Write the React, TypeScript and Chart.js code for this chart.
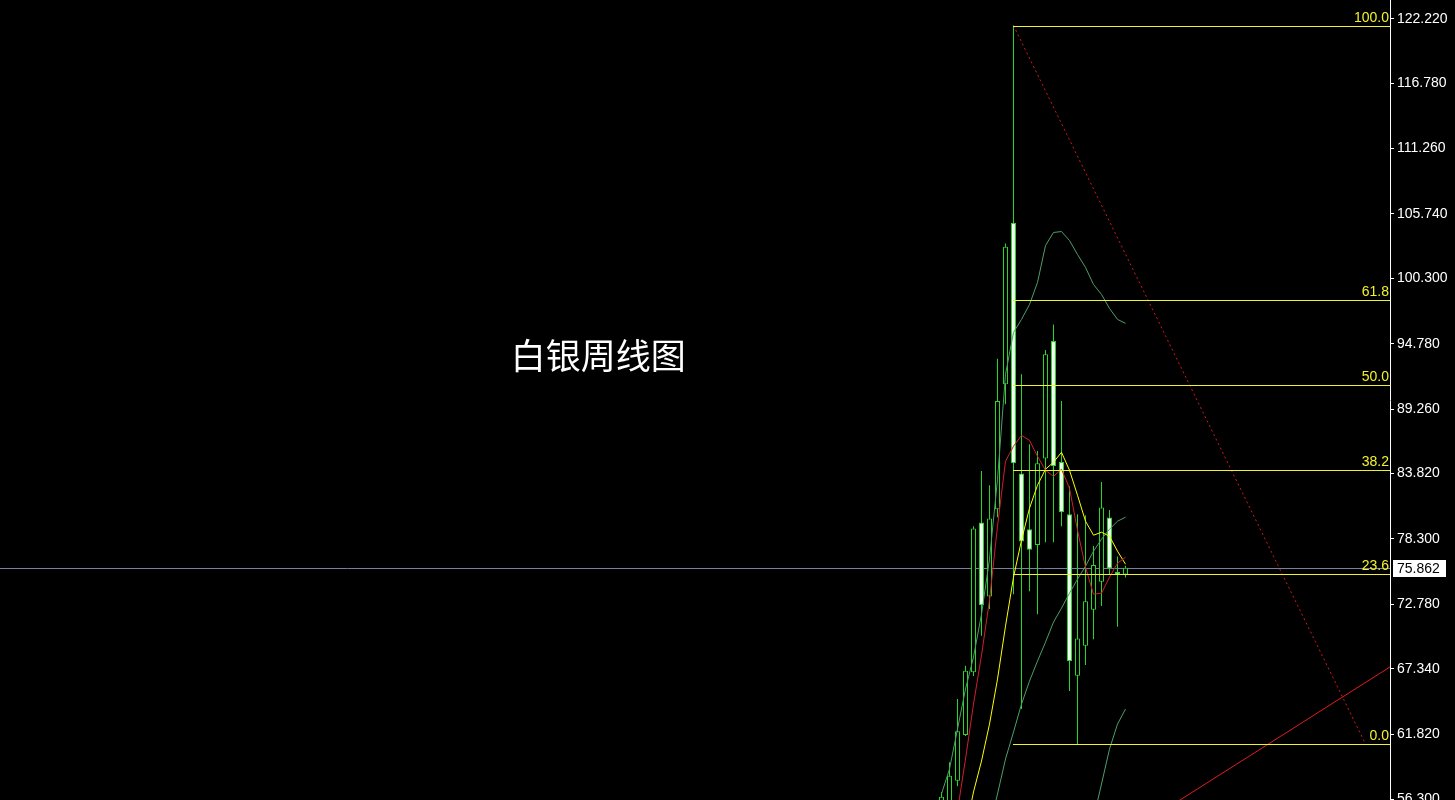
import React, { useEffect, useRef } from "react";
import { Chart, registerables } from "chart.js";

Chart.register(...registerables);

// ---- data (weekly candles, silver) ----
const weeks = [
  "2025-11-24", "2025-12-01", "2025-12-08", "2025-12-15", "2025-12-22", "2025-12-29",
  "2026-01-05", "2026-01-12", "2026-01-19", "2026-01-26", "2026-02-02", "2026-02-09",
  "2026-02-16", "2026-02-23", "2026-03-02", "2026-03-09", "2026-03-16", "2026-03-23",
  "2026-03-30", "2026-04-06", "2026-04-13", "2026-04-20", "2026-04-27", "2026-05-04",
];
const opens = [51.0, 56.0, 57.88, 61.74, 67.03, 79.68, 73.44, 80.8, 91.35, 104.99, 83.81, 79.11, 77.79, 85.08, 95.0, 84.79, 80.38, 66.74, 69.27, 72.31, 74.67, 80.1, 75.51, 75.3];
const highs = [56.93, 59.43, 64.77, 67.58, 79.37, 84.03, 82.83, 93.51, 103.24, 121.64, 92.19, 86.28, 85.72, 94.24, 96.41, 89.94, 82.74, 80.38, 80.29, 77.7, 83.1, 80.74, 76.81, 76.02];
const lows = [50.2, 55.6, 57.41, 61.65, 66.71, 70.11, 72.37, 80.13, 89.66, 73.63, 63.93, 73.88, 71.94, 78.02, 78.02, 79.37, 65.45, 60.98, 67.64, 69.83, 72.64, 75.32, 70.87, 75.04];
const closes = [56.53, 58.3, 62.05, 67.16, 79.17, 72.7, 80.02, 89.94, 102.96, 84.68, 78.08, 77.37, 84.68, 93.88, 84.45, 80.55, 67.98, 69.89, 73.04, 76.1, 80.94, 75.8, 75.29, 75.862];

const ma5 = [49.59, 52.12, 55.32, 59.71, 64.35, 68.48, 73.12, 79.37, 84.85, 86.12, 87.04, 86.62, 85.27, 84.09, 83.58, 84.18, 82.57, 79.03, 75.91, 73.63, 73.71, 75.06, 76.25, 76.75];
const ma10 = [49.0, 50.26, 51.61, 53.64, 56.93, 59.54, 62.66, 66.46, 70.93, 75.06, 78.19, 80.89, 82.83, 84.18, 84.77, 85.61, 84.09, 81.98, 79.79, 78.61, 78.86, 78.52, 77.26, 76.16];
const bbMid = [47.48, 48.24, 49.0, 49.92, 51.27, 52.54, 53.89, 56.76, 59.71, 61.99, 64.35, 66.29, 67.98, 69.58, 71.27, 72.45, 73.71, 74.9, 75.99, 77.26, 78.27, 79.12, 79.79, 80.13];
const bbUpper = [56.76, 58.87, 62.24, 65.62, 68.32, 71.94, 76.58, 83.33, 92.19, 95.73, 96.83, 98.09, 99.95, 103.07, 104.17, 104.25, 103.49, 102.31, 101.22, 99.78, 98.94, 97.76, 96.83, 96.5];
const bbLower = [38.2, 37.6, 35.8, 34.2, 34.2, 33.1, 31.2, 30.2, 27.2, 28.3, 31.9, 34.5, 36.0, 36.1, 38.4, 40.7, 43.9, 47.5, 50.8, 54.7, 57.6, 60.55, 62.66, 63.93];

const fibLevels = [0, 23.6, 38.2, 50, 61.8, 100];
const fibHigh = 121.64;
const fibLow = 60.98;
const fibStartIndex = 9;

const downTrend = [
  { x: 9, y: 121.64 },
  { x: 53, y: 60.98 },
];
const upTrend = [
  { x: 20, y: 52.05 },
  { x: 60, y: 69.17 },
];

const lastPrice = 75.862;
const yTicks = [122.22, 116.78, 111.26, 105.74, 100.3, 94.78, 89.26, 83.82, 78.3, 72.78, 67.34, 61.82, 56.3];
const titleText = "白银周线图";

// ---- view settings ----
const X_MIN = -117.6875;
const X_MAX = 56.0625;
const Y_MIN = 56.25;
const Y_MAX = 123.8;

const GREEN = "rgb(40,215,40)";
const BB_COLOR = "rgb(78,158,104)";
const FIB_COLOR = "#f2f22a";
const LABEL_FONT = '14px "Liberation Sans"';

function App() {
  const ref = useRef<HTMLCanvasElement | null>(null);

  useEffect(() => {
    const canvas = ref.current;
    if (!canvas) return;

    const idx = weeks.map((_, i) => i);
    const wickData = idx.map((i) => ({ x: i, y: [lows[i], highs[i]] }));
    const bodyData = idx.map((i) => ({ x: i, y: [opens[i], closes[i]] }));
    const bodyFill = idx.map((i) => (closes[i] >= opens[i] ? "#000000" : "#f0fff0"));
    const line = (arr: number[]) => arr.map((v, i) => ({ x: i, y: v }));
    const fibValue = (lvl: number) => fibLow + ((fibHigh - fibLow) * lvl) / 100;

    const overlay = {
      id: "overlay",
      beforeDatasetsDraw(chart: any) {
        const { ctx, chartArea, scales } = chart;
        const y = scales.y;
        const py = Math.round(y.getPixelForValue(lastPrice)) + 0.5;
        ctx.save();
        ctx.strokeStyle = "rgb(125,125,160)";
        ctx.lineWidth = 1;
        ctx.beginPath();
        ctx.moveTo(chartArea.left, py);
        ctx.lineTo(chartArea.right, py);
        ctx.stroke();
        ctx.restore();
      },
      afterDatasetsDraw(chart: any) {
        const { ctx, chartArea, scales } = chart;
        const y = scales.y;
        const x = scales.x;
        ctx.save();
        ctx.beginPath();
        ctx.rect(chartArea.left, chartArea.top, chartArea.right - chartArea.left, chartArea.bottom - chartArea.top);
        ctx.clip();
        ctx.strokeStyle = FIB_COLOR;
        ctx.lineWidth = 1;
        const x0 = Math.round(x.getPixelForValue(fibStartIndex)) - 1;
        fibLevels.forEach((lvl) => {
          const py = Math.round(y.getPixelForValue(fibValue(lvl))) + 0.5;
          ctx.beginPath();
          ctx.moveTo(x0, py);
          ctx.lineTo(chartArea.right, py);
          ctx.stroke();
        });
        ctx.restore();
      },
      afterDraw(chart: any) {
        const { ctx, chartArea, scales } = chart;
        const y = scales.y;
        const x = scales.x;
        ctx.save();
        // fib labels
        ctx.font = LABEL_FONT;
        ctx.fillStyle = FIB_COLOR;
        ctx.textAlign = "right";
        ctx.textBaseline = "bottom";
        fibLevels.forEach((lvl) => {
          const py = Math.round(y.getPixelForValue(fibValue(lvl)));
          ctx.fillText(lvl.toFixed(1), chartArea.right - 1, py - 1);
        });
        // price box
        const pp = Math.round(y.getPixelForValue(lastPrice));
        ctx.fillStyle = "#ffffff";
        ctx.fillRect(chartArea.right + 3, pp - 8, 53, 17);
        ctx.fillStyle = "#000000";
        ctx.textAlign = "left";
        ctx.textBaseline = "middle";
        ctx.fillText(lastPrice.toFixed(3), chartArea.right + 7, pp + 1);
        // title
        ctx.fillStyle = "#ffffff";
        ctx.font = '35px "Noto Sans CJK SC"';
        ctx.textAlign = "center";
        ctx.textBaseline = "middle";
        ctx.fillText(titleText, x.getPixelForValue(-42.9), y.getPixelForValue(93.74));
        ctx.restore();
      },
    };

    const chart = new Chart(canvas, {
      type: "bar",
      data: {
        datasets: [
          {
            type: "bar",
            data: wickData as any,
            backgroundColor: GREEN,
            borderColor: GREEN,
            borderWidth: 0,
            barThickness: 1,
            grouped: false,
            inflateAmount: 0,
            order: 6,
          } as any,
          {
            type: "bar",
            data: bodyData as any,
            backgroundColor: bodyFill,
            borderColor: GREEN,
            borderWidth: 1,
            borderSkipped: false,
            barThickness: 5,
            grouped: false,
            inflateAmount: 0,
            order: 5,
          } as any,
          { type: "line", data: line(bbUpper), borderColor: BB_COLOR, borderWidth: 1, pointRadius: 0, order: 4 },
          { type: "line", data: line(bbMid), borderColor: BB_COLOR, borderWidth: 1, pointRadius: 0, order: 4 },
          { type: "line", data: line(bbLower), borderColor: BB_COLOR, borderWidth: 1, pointRadius: 0, order: 4 },
          { type: "line", data: line(ma10), borderColor: "#ffff00", borderWidth: 1, pointRadius: 0, order: 3 },
          { type: "line", data: line(ma5), borderColor: "rgb(210,30,45)", borderWidth: 1, pointRadius: 0, order: 2 },
          {
            type: "line",
            data: downTrend,
            borderColor: "rgb(215,25,25)",
            borderWidth: 1,
            borderDash: [2, 3],
            pointRadius: 0,
            order: 1,
          },
          {
            type: "line",
            data: upTrend,
            borderColor: "rgb(225,30,30)",
            borderWidth: 1,
            pointRadius: 0,
            order: 1,
          },
        ] as any,
      },
      options: {
        responsive: false,
        animation: false,
        devicePixelRatio: 1,
        layout: { padding: 0 },
        plugins: {
          legend: { display: false },
          tooltip: { enabled: false },
          title: { display: false },
        },
        scales: {
          x: {
            type: "linear",
            min: X_MIN,
            max: X_MAX,
            display: false,
            offset: false,
            grid: { offset: false },
          },
          y: {
            type: "linear",
            position: "right",
            min: Y_MIN,
            max: Y_MAX,
            afterBuildTicks: (scale: any) => {
              scale.ticks = yTicks.map((v) => ({ value: v }));
            },
            afterFit: (scale: any) => {
              scale.width = 65;
              scale.paddingTop = 0;
              scale.paddingBottom = 0;
            },
            ticks: {
              autoSkip: false,
              color: "#ffffff",
              padding: 3,
              font: { family: "Liberation Sans", size: 14 },
              callback: (v: any) => Number(v).toFixed(3),
            },
            grid: {
              drawOnChartArea: false,
              drawTicks: true,
              tickLength: 4,
              color: "#ffffff",
            },
            border: { display: true, color: "#ffffff", width: 1 },
          },
        },
      } as any,
      plugins: [overlay],
    });

    return () => {
      chart.destroy();
    };
  }, []);

  return (
    <div
      style={{
        position: "fixed",
        left: 0,
        top: 0,
        width: 1455,
        height: 800,
        background: "#000000",
        overflow: "hidden",
      }}
    >
      <canvas ref={ref} width={1455} height={800} style={{ display: "block" }} />
    </div>
  );
}

export default App;
